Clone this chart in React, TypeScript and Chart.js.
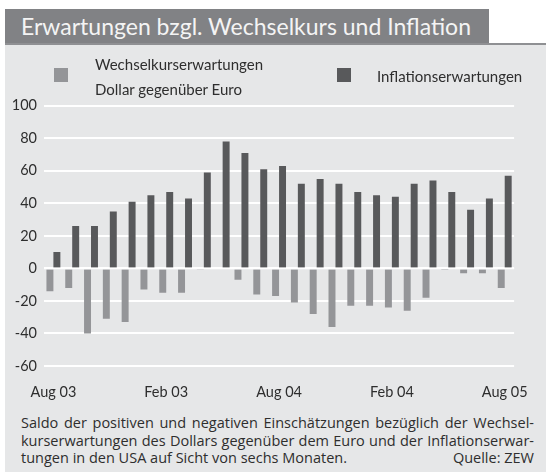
import React, { useEffect, useRef } from 'react';
import { Chart, registerables } from 'chart.js';

Chart.register(...registerables);

const categories = [
  'Aug 03', 'Sep 03', 'Okt 03', 'Nov 03', 'Dez 03', 'Jan 04', 'Feb 04',
  'Mär 04', 'Apr 04', 'Mai 04', 'Jun 04', 'Jul 04', 'Aug 04', 'Sep 04',
  'Okt 04', 'Nov 04', 'Dez 04', 'Jan 05', 'Feb 05', 'Mär 05', 'Apr 05',
  'Mai 05', 'Jun 05', 'Jul 05', 'Aug 05',
];
const tickLabels = ['Aug 03', 'Feb 03', 'Aug 04', 'Feb 04', 'Aug 05'];
const yTicks = [-60, -40, -20, 0, 20, 40, 60, 80, 100];

const wechselkursErwartungen = [
  -14, -12, -40, -31, -33, -13, -15, -15, -0.5, 0, -7, -16, -17,
  -21, -28, -36, -23, -23, -24, -26, -18, -1, -3, -3, -12,
];
const inflationsErwartungen = [
  10, 26, 26, 35, 41, 45, 47, 43, 59, 78, 71, 61, 63,
  52, 55, 52, 47, 45, 44, 52, 54, 47, 36, 43, 57,
];

const seriesNames = ['Wechselkurserwartungen', 'Inflationserwartungen'];

const FONT = 'Lato, "Noto Sans", sans-serif';
const CAPTION_FONT = '"Open Sans", Lato, sans-serif';
const TEXT = '#2e2e2e';
const LIGHT = '#949598';
const DARK = '#58595b';
const PANEL = '#e6e7e8';

const zeroLine = {
  id: 'zeroLine',
  afterDatasetsDraw(chart: any) {
    const { ctx, chartArea, scales } = chart;
    const py = scales.y.getPixelForValue(0);
    ctx.save();
    ctx.strokeStyle = '#ffffff';
    ctx.lineWidth = 1.5;
    ctx.beginPath();
    ctx.moveTo(chartArea.left, py);
    ctx.lineTo(chartArea.right, py);
    ctx.stroke();
    ctx.restore();
  },
};

function BarChart() {
  const ref = useRef<HTMLCanvasElement | null>(null);
  useEffect(() => {
    if (!ref.current) return;
    const chart = new Chart(ref.current, {
      type: 'bar',
      data: {
        labels: categories,
        datasets: [
          {
            label: seriesNames[0],
            data: wechselkursErwartungen,
            backgroundColor: LIGHT,
            borderWidth: 0,
            categoryPercentage: 0.74,
            barPercentage: 1,
          },
          {
            label: seriesNames[1],
            data: inflationsErwartungen,
            backgroundColor: DARK,
            borderWidth: 0,
            categoryPercentage: 0.74,
            barPercentage: 1,
          },
        ],
      },
      options: {
        responsive: false,
        animation: false,
        devicePixelRatio: 1,
        layout: { padding: { left: 8, right: 19.5, top: 13, bottom: 0 } },
        plugins: { legend: { display: false }, tooltip: { enabled: false }, title: { display: false } },
        scales: {
          x: {
            grid: { display: false, drawTicks: false },
            border: { display: false },
            ticks: {
              autoSkip: false,
              maxRotation: 0,
              minRotation: 0,
              padding: 18,
              color: TEXT,
              font: { family: FONT, size: 14.5 },
              callback: (_v: any, i: number) => (i % 6 === 0 ? tickLabels[i / 6] : ''),
            },
            afterFit: (scale: any) => {
              scale.height = 44;
            },
          },
          y: {
            min: yTicks[0],
            max: yTicks[yTicks.length - 1],
            grid: { color: '#ffffff', lineWidth: 2, drawTicks: false },
            border: { display: false },
            ticks: {
              stepSize: 20,
              padding: 7,
              color: TEXT,
              font: { family: FONT, size: 14.5 },
            },
            afterFit: (scale: any) => {
              scale.width = 36;
            },
          },
        },
      },
      plugins: [zeroLine],
    });
    return () => chart.destroy();
  }, []);
  return (
    <canvas
      ref={ref}
      width={546}
      height={320}
      style={{ position: 'absolute', left: 0, top: 90, width: 546, height: 320 }}
    />
  );
}

export default function App() {
  return (
    <div
      style={{
        position: 'fixed',
        left: 0,
        top: 0,
        width: 546,
        height: 472,
        background: '#ffffff',
        fontFamily: FONT,
        color: TEXT,
        overflow: 'hidden',
      }}
    >
      <div
        style={{
          position: 'absolute',
          left: 5,
          top: 9,
          width: 484,
          height: 34,
          background: '#818285',
          color: '#f4f4f4',
          fontSize: 23,
          lineHeight: '34px',
          paddingLeft: 16,
          boxSizing: 'border-box',
          whiteSpace: 'nowrap',
        }}
      >
        Erwartungen bzgl. Wechselkurs und Inflation
      </div>
      <div style={{ position: 'absolute', left: 5, top: 43, width: 541, height: 2, background: '#8f9093' }} />
      <div style={{ position: 'absolute', left: 5, top: 45, width: 541, height: 427, background: PANEL }} />
      <BarChart />
      {/* legend */}
      <div style={{ position: 'absolute', left: 54, top: 68, width: 14, height: 14, background: LIGHT }} />
      <div style={{ position: 'absolute', left: 95, top: 55, fontSize: 15, lineHeight: '18px', whiteSpace: 'nowrap' }}>
        {seriesNames[0]}
      </div>
      <div style={{ position: 'absolute', left: 95, top: 80, fontSize: 15, lineHeight: '18px', whiteSpace: 'nowrap' }}>
        Dollar gegenüber Euro
      </div>
      <div style={{ position: 'absolute', left: 337, top: 68, width: 14, height: 14, background: DARK }} />
      <div style={{ position: 'absolute', left: 377, top: 67, fontSize: 15, lineHeight: '18px', whiteSpace: 'nowrap' }}>
        {seriesNames[1]}
      </div>
      {/* caption */}
      <div
        style={{
          position: 'absolute',
          left: 21,
          top: 414,
          width: 513,
          fontFamily: CAPTION_FONT,
          fontSize: 14.5,
          lineHeight: '17.5px',
        }}
      >
        <div style={{ textAlign: 'justify', textAlignLast: 'justify' as any, whiteSpace: 'nowrap' }}>
          Saldo der positiven und negativen Einschätzungen bezüglich der Wechsel-
        </div>
        <div style={{ textAlign: 'justify', textAlignLast: 'justify' as any, whiteSpace: 'nowrap' }}>
          kurserwartungen des Dollars gegenüber dem Euro und der Inflationserwar-
        </div>
        <div style={{ display: 'flex', justifyContent: 'space-between', whiteSpace: 'nowrap' }}>
          <span>tungen in den USA auf Sicht von sechs Monaten.</span>
          <span>Quelle: ZEW</span>
        </div>
      </div>
    </div>
  );
}
